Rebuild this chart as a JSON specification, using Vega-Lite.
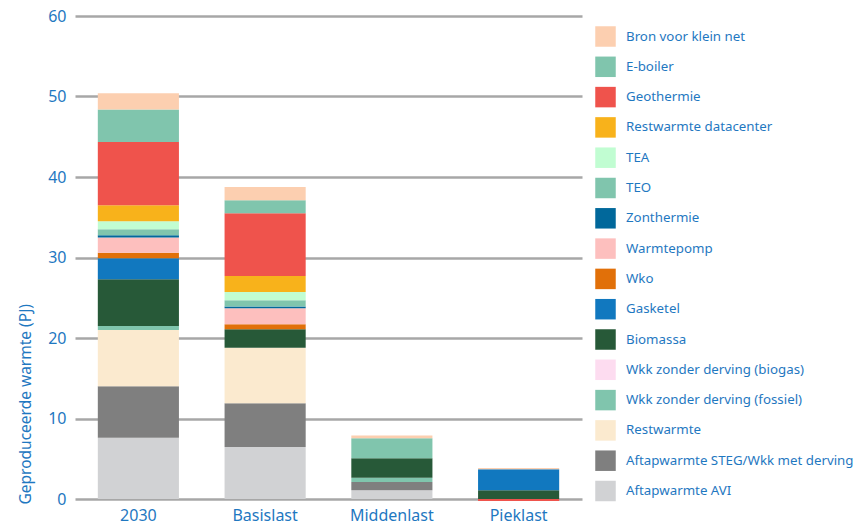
{
  "$schema": "https://vega.github.io/schema/vega-lite/v6.json",
  "width": 507,
  "height": 483,
  "autosize": "none",
  "padding": {"left": 75, "top": 16, "right": 273, "bottom": 27},
  "background": "white",
  "config": {"view": {"stroke": null}, "font": "Noto Sans"},
  "data": {
    "values": [
      {"scenario": "2030", "bron": "Aftapwarmte AVI", "pj": 7.6},
      {"scenario": "2030", "bron": "Aftapwarmte STEG/Wkk met derving", "pj": 6.4},
      {"scenario": "2030", "bron": "Restwarmte", "pj": 7.0},
      {"scenario": "2030", "bron": "Wkk zonder derving (fossiel)", "pj": 0.5},
      {"scenario": "2030", "bron": "Biomassa", "pj": 5.8},
      {"scenario": "2030", "bron": "Gasketel", "pj": 2.6},
      {"scenario": "2030", "bron": "Wko", "pj": 0.7},
      {"scenario": "2030", "bron": "Warmtepomp", "pj": 1.9},
      {"scenario": "2030", "bron": "Zonthermie", "pj": 0.25},
      {"scenario": "2030", "bron": "TEO", "pj": 0.75},
      {"scenario": "2030", "bron": "TEA", "pj": 1.0},
      {"scenario": "2030", "bron": "Restwarmte datacenter", "pj": 2.0},
      {"scenario": "2030", "bron": "Geothermie", "pj": 7.85},
      {"scenario": "2030", "bron": "E-boiler", "pj": 4.05},
      {"scenario": "2030", "bron": "Bron voor klein net", "pj": 2.0},
      {"scenario": "Basislast", "bron": "Aftapwarmte AVI", "pj": 6.45},
      {"scenario": "Basislast", "bron": "Aftapwarmte STEG/Wkk met derving", "pj": 5.45},
      {"scenario": "Basislast", "bron": "Restwarmte", "pj": 6.9},
      {"scenario": "Basislast", "bron": "Biomassa", "pj": 2.3},
      {"scenario": "Basislast", "bron": "Wko", "pj": 0.6},
      {"scenario": "Basislast", "bron": "Warmtepomp", "pj": 2.0},
      {"scenario": "Basislast", "bron": "Zonthermie", "pj": 0.2},
      {"scenario": "Basislast", "bron": "TEO", "pj": 0.8},
      {"scenario": "Basislast", "bron": "TEA", "pj": 1.0},
      {"scenario": "Basislast", "bron": "Restwarmte datacenter", "pj": 2.0},
      {"scenario": "Basislast", "bron": "Geothermie", "pj": 7.8},
      {"scenario": "Basislast", "bron": "E-boiler", "pj": 1.6},
      {"scenario": "Basislast", "bron": "Bron voor klein net", "pj": 1.65},
      {"scenario": "Middenlast", "bron": "Aftapwarmte AVI", "pj": 1.1},
      {"scenario": "Middenlast", "bron": "Aftapwarmte STEG/Wkk met derving", "pj": 1.0},
      {"scenario": "Middenlast", "bron": "Wkk zonder derving (fossiel)", "pj": 0.55},
      {"scenario": "Middenlast", "bron": "Biomassa", "pj": 2.4},
      {"scenario": "Middenlast", "bron": "E-boiler", "pj": 2.5},
      {"scenario": "Middenlast", "bron": "Bron voor klein net", "pj": 0.35},
      {"scenario": "Pieklast", "bron": "Geothermie", "pj": -0.25},
      {"scenario": "Pieklast", "bron": "Biomassa", "pj": 1.1},
      {"scenario": "Pieklast", "bron": "Gasketel", "pj": 2.6},
      {"scenario": "Pieklast", "bron": "Bron voor klein net", "pj": 0.15}
    ]
  },
  "transform": [
    {"calculate": "indexof(['Aftapwarmte AVI','Aftapwarmte STEG/Wkk met derving','Restwarmte','Wkk zonder derving (fossiel)','Wkk zonder derving (biogas)','Biomassa','Gasketel','Wko','Warmtepomp','Zonthermie','TEO','TEA','Restwarmte datacenter','Geothermie','E-boiler','Bron voor klein net'], datum.bron)", "as": "volgorde"}
  ],
  "mark": {"type": "bar"},
  "encoding": {
    "x": {
      "field": "scenario",
      "type": "nominal",
      "sort": ["2030", "Basislast", "Middenlast", "Pieklast"],
      "scale": {"paddingInner": 0.36, "paddingOuter": 0.18},
      "axis": {
        "title": null,
        "labelAngle": 0,
        "domain": false,
        "ticks": false,
        "labelFontSize": 16,
        "labelColor": "#1f78c1",
        "labelPadding": 8
      }
    },
    "y": {
      "field": "pj",
      "type": "quantitative",
      "stack": "zero",
      "scale": {"domain": [0, 60]},
      "axis": {
        "values": [0, 10, 20, 30, 40, 50, 60],
        "title": "Geproduceerde warmte (PJ)",
        "titleColor": "#1f78c1",
        "titleFontSize": 15.5,
        "titleFontWeight": "normal",
        "titleAnchor": "start",
        "titlePadding": 14,
        "titleY": 488,
        "grid": true,
        "gridColor": "#a7a7a7",
        "gridWidth": 2.5,
        "domain": false,
        "ticks": false,
        "labelFontSize": 16,
        "labelColor": "#1f78c1",
        "labelPadding": 9
      }
    },
    "color": {
      "field": "bron",
      "type": "nominal",
      "scale": {
        "domain": ["Bron voor klein net", "E-boiler", "Geothermie", "Restwarmte datacenter", "TEA", "TEO", "Zonthermie", "Warmtepomp", "Wko", "Gasketel", "Biomassa", "Wkk zonder derving (biogas)", "Wkk zonder derving (fossiel)", "Restwarmte", "Aftapwarmte STEG/Wkk met derving", "Aftapwarmte AVI"],
        "range": ["#fccfb0", "#80c5ad", "#ef534c", "#f8b21b", "#c1fdd2", "#80c5ad", "#01689b", "#fdbfbe", "#e17009", "#1178bf", "#275938", "#fddcf0", "#80c5ad", "#fbeacf", "#7f7f7f", "#d1d2d4"]
      },
      "legend": {
        "title": null,
        "orient": "none",
        "legendX": 520,
        "legendY": 10,
        "symbolType": "square",
        "symbolSize": 420,
        "symbolStrokeWidth": 0,
        "symbolOpacity": 1,
        "labelFontSize": 13.3,
        "labelColor": "#1f78c1",
        "labelOffset": 10,
        "labelLimit": 300,
        "rowPadding": 9.3
      }
    },
    "order": {"field": "volgorde", "type": "quantitative", "sort": "ascending"}
  }
}
